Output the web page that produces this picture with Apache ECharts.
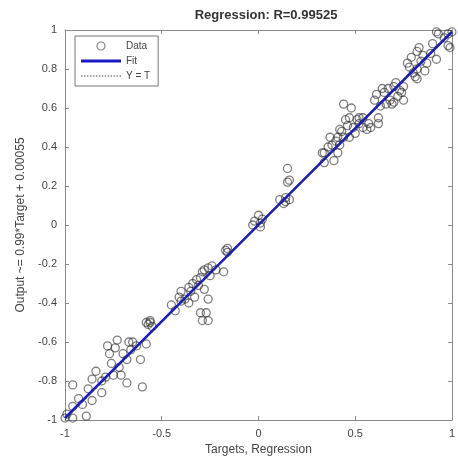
<!DOCTYPE html>
<html style="height: 100%">
<head>
<meta charset="utf-8">
<style type="text/css">
  body, html, #main { width: 100%; height: 100%; margin: 0; overflow: hidden; background: #fff; }
</style>
</head>
<body>
<div id="main"></div>
<script type="text/javascript" src="https://cdn.jsdelivr.net/npm/echarts@6/dist/echarts.min.js"></script>
<script type="text/javascript">
// regression data: target -> network output
var targets = [
  -1.00, -0.96, -0.89, -0.96, -0.93, -0.96, -0.86, -0.86, -0.84, -0.81,
  -0.81, -0.78, -0.77, -0.76, -0.75, -0.73, -0.72, -0.71, -0.68, -0.68,
  -0.67, -0.65, -0.66, -0.61, -0.60, -0.58, -0.57, -0.56, -0.74, -0.99,
  -0.91, -0.88, -0.79, -0.70, -0.63,
  -0.58, -0.56, -0.55, -0.45, -0.43, -0.40, -0.38, -0.40, -0.36, -0.34,
  -0.32, -0.30, -0.29, -0.28, -0.26, -0.24, -0.22, -0.18, -0.28, -0.26,
  -0.30, -0.27, -0.29, -0.26, -0.35, -0.41, -0.36, -0.33, -0.31, -0.25,
  -0.17, -0.16, -0.16,
  -0.03, 0.01, 0.01, -0.02, 0.00, 0.02,
  0.11, 0.14, 0.14, 0.16, 0.15, 0.15, 0.16, 0.13,
  0.44, 0.48, 0.45, 0.47, 0.51, 0.52, 0.42, 0.49, 0.54, 0.56,
  0.62, 0.62, 0.41, 0.44, 0.37, 0.38, 0.34, 0.33, 0.41, 0.39,
  0.34, 0.47, 0.42, 0.54, 0.52, 0.43, 0.36, 0.40, 0.46, 0.50,
  0.58, 0.57,
  0.60, 0.65, 0.67, 0.70, 0.71, 0.74, 0.75, 0.68, 0.66, 0.70,
  0.72, 0.75, 0.63, 0.69, 0.61, 0.64, 0.73,
  0.77, 0.79, 0.82, 0.83, 0.85, 0.82, 0.80, 0.82, 0.86, 0.87,
  0.78, 0.92, 0.92, 0.93, 0.98, 0.98, 0.96, 0.99, 0.84, 0.89,
  0.81, 0.90, 1.00
];
var outputs = [
  -0.99, -0.99, -0.98, -0.82, -0.89, -0.93, -0.90, -0.79, -0.75, -0.86,
  -0.80, -0.62, -0.66, -0.71, -0.77, -0.59, -0.73, -0.77, -0.81, -0.69,
  -0.60, -0.60, -0.64, -0.69, -0.83, -0.61, -0.51, -0.50, -0.63, -0.97,
  -0.92, -0.84, -0.78, -0.66, -0.62,
  -0.50, -0.49, -0.52, -0.41, -0.44, -0.34, -0.38, -0.39, -0.32, -0.30,
  -0.28, -0.27, -0.24, -0.23, -0.22, -0.21, -0.23, -0.24, -0.33, -0.38,
  -0.45, -0.45, -0.49, -0.49, -0.34, -0.37, -0.40, -0.37, -0.31, -0.26,
  -0.13, -0.14, -0.12,
  0.00, 0.01, -0.01, 0.02, 0.05, 0.03,
  0.13, 0.14, 0.12, 0.13, 0.29, 0.22, 0.23, 0.11,
  0.62, 0.60, 0.54, 0.55, 0.54, 0.55, 0.49, 0.50, 0.50, 0.49,
  0.55, 0.52, 0.45, 0.45, 0.45, 0.41, 0.37, 0.37, 0.37, 0.33,
  0.32, 0.45, 0.41, 0.55, 0.52, 0.48, 0.40, 0.43, 0.51, 0.47,
  0.50, 0.52,
  0.64, 0.68, 0.70, 0.71, 0.73, 0.68, 0.64, 0.64, 0.62, 0.63,
  0.66, 0.71, 0.61, 0.62, 0.67, 0.70, 0.69,
  0.83, 0.86, 0.89, 0.91, 0.87, 0.80, 0.78, 0.75, 0.79, 0.83,
  0.81, 0.85, 0.99, 0.98, 0.98, 0.92, 0.96, 0.91, 0.84, 0.88,
  0.76, 0.93, 0.99
];
var fitSlope = 0.99;
var fitOffset = 0.00055;

var chart = echarts.init(document.getElementById('main'));

var points = [];
for (var i = 0; i < targets.length; i++) {
  points.push([targets[i], outputs[i]]);
}
var fitLine = [[-1, fitSlope * -1 + fitOffset], [1, fitSlope * 1 + fitOffset]];
var idLine = [[-1, -1], [1, 1]];

var textColor = '#444';
var axisColor = '#8a8a8a';
var fitColor = '#1a1ac4';
var font = 'Liberation Sans, Arial, sans-serif';

// legend icons drawn as paths: solid bar and a row of dots
var solidIcon = 'path://M0,0L40,0L40,3L0,3Z';
var dotPath = '';
for (var k = 0; k < 40; k += 3) {
  dotPath += 'M' + k + ',0L' + (k + 1.5) + ',0L' + (k + 1.5) + ',1.2L' + k + ',1.2Z';
}
var dottedIcon = 'path://' + dotPath;

function boxAxis(pos, showLabel) {
  return {
    type: 'value', position: pos, min: -1, max: 1,
    interval: pos === 'left' || pos === 'right' ? 0.2 : 0.5,
    axisLine: { show: true, onZero: false, lineStyle: { color: axisColor, width: 1 } },
    axisTick: { show: true, inside: true, length: 4, lineStyle: { color: axisColor } },
    splitLine: { show: false },
    axisLabel: { show: showLabel, color: textColor, fontSize: 11, fontFamily: font, margin: 8 }
  };
}

var xBottom = boxAxis('bottom', true);
xBottom.name = 'Targets, Regression';
xBottom.nameLocation = 'middle';
xBottom.nameGap = 24;
xBottom.nameTextStyle = { color: textColor, fontSize: 12, fontFamily: font };
var yLeft = boxAxis('left', true);
yLeft.name = 'Output ~= 0.99*Target + 0.00055';
yLeft.nameLocation = 'middle';
yLeft.nameGap = 37;
yLeft.nameTextStyle = { color: textColor, fontSize: 12, fontFamily: font };

var option = {
  backgroundColor: '#fff',
  animation: false,
  title: {
    text: 'Regression: R=0.99525',
    left: 261, top: 4, textAlign: 'center',
    textStyle: { color: '#333', fontSize: 13, fontWeight: 'bold', fontFamily: font }
  },
  grid: { left: 65, right: 2, top: 30, bottom: 47 },
  xAxis: [xBottom, boxAxis('top', false)],
  yAxis: [yLeft, boxAxis('right', false)],
  legend: {
    orient: 'vertical', left: 75, top: 36,
    itemWidth: 40, itemHeight: 8, itemGap: 5,
    padding: [5, 8, 5, 6],
    backgroundColor: '#fff', borderColor: '#777', borderWidth: 1,
    textStyle: { color: textColor, fontSize: 10, fontFamily: font },
    data: [
      { name: 'Data', icon: 'circle', itemStyle: { color: 'rgba(255,255,255,0)', borderColor: '#666', borderWidth: 1.2 } },
      { name: 'Fit', icon: solidIcon, itemStyle: { color: fitColor } },
      { name: 'Y = T', icon: dottedIcon, itemStyle: { color: '#444' } }
    ]
  },
  series: [
    {
      name: 'Data', type: 'scatter', data: points,
      symbol: 'circle', symbolSize: 8,
      itemStyle: { color: 'rgba(255,255,255,0)', borderColor: 'rgba(40,40,40,0.75)', borderWidth: 1.3 },
      z: 2
    },
    {
      name: 'Fit', type: 'line', data: fitLine, symbol: 'none',
      itemStyle: { color: fitColor },
      lineStyle: { color: fitColor, width: 2.5 },
      z: 3
    },
    {
      name: 'Y = T', type: 'line', data: idLine, symbol: 'none',
      itemStyle: { color: '#333' },
      lineStyle: { color: '#333', width: 1, type: 'dotted' },
      z: 4
    }
  ]
};
chart.setOption(option);
</script>
</body>
</html>
